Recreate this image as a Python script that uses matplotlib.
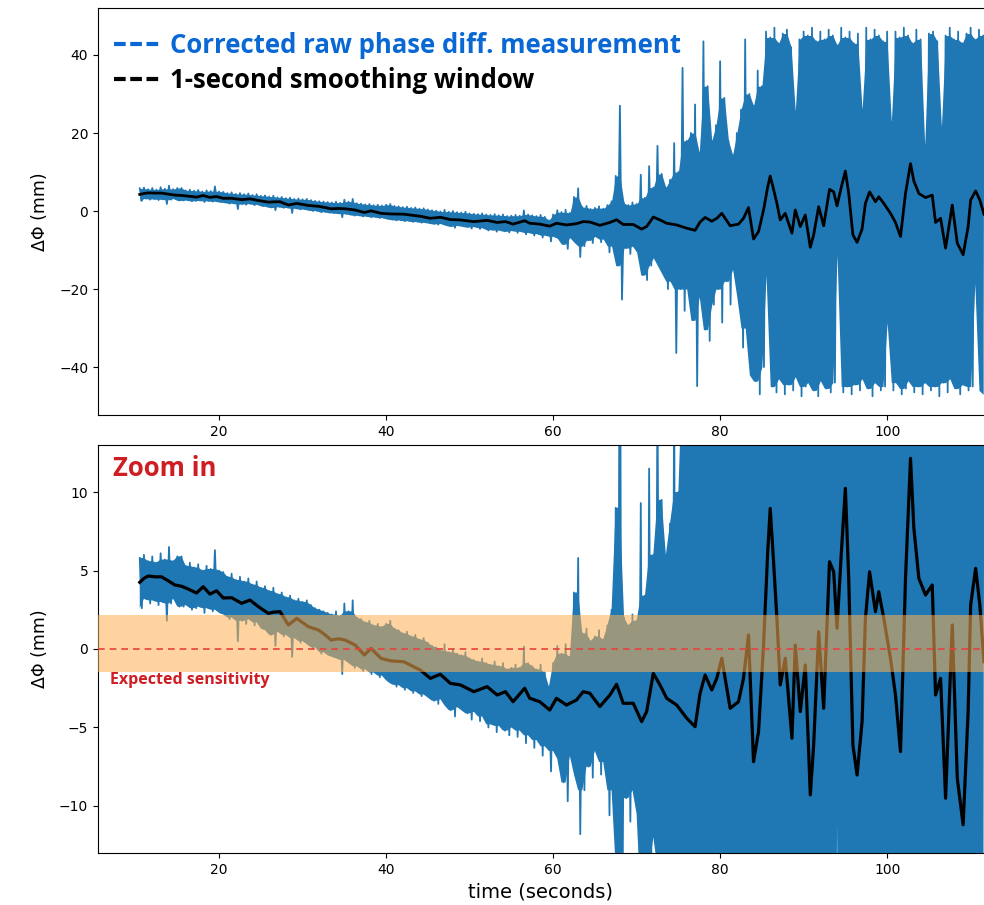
import numpy as np
import matplotlib.pyplot as plt
from matplotlib.lines import Line2D
from matplotlib.transforms import blended_transform_factory

# Raw phase difference (mm): highest / lowest excursion in each 0.5 s slot from 10.5 s on
raw_t0 = 10.5
raw_dt = 0.5
raw_hi = [
    5.8, 6.0, 5.6, 5.9, 5.5, 6.1, 5.7, 6.5, 5.6, 5.9,
    5.9, 5.3, 5.5, 5.2, 5.4, 5.0, 5.3, 5.1, 6.3, 5.0,
    4.9, 4.6, 4.8, 4.4, 4.6, 4.3, 4.5, 4.1, 4.3, 3.9,
    4.0, 3.7, 3.9, 3.5, 3.6, 3.3, 3.4, 3.1, 3.2, 3.0,
    3.1, 2.8, 2.6, 2.5, 2.4, 2.3, 2.2, 2.4, 2.1, 2.9,
    2.4, 3.1, 2.0, 1.9, 1.7, 1.8, 1.5, 1.6, 1.4, 1.6,
    1.8, 1.3, 1.2, 1.0, 1.1, 0.8, 0.9, 0.6, 0.7, 0.4,
    0.2, 0.1, -0.1, 0.3, -0.2, 0.0, -0.3, -0.4, -0.2, -0.6,
    -0.7, -0.8, -0.6, -0.9, -1.0, -0.8, -1.1, -0.9, -1.3, -1.2,
    -1.0, -1.2, 0.15, -0.9, -1.1, -1.3, -1.0, -1.5, -2.4, -0.9,
    0.2, -0.3, 0.3, -0.5, 3.6, 5.8, 1.0, 1.3, 0.5, 0.8,
    1.2, 0.6, 1.5, 2.5, 9.0, 27.0, 2.0, 1.5, 2.2, 1.8,
    9.3, 3.4, 11.5, 6.0, 16.7, 9.5, 6.0, 8.0, 17.4, 10.0,
    36.7, 18.0, 20.0, 27.3, 15.0, 43.5, 32.0, 18.0, 22.0, 38.4,
    29.0, 18.0, 14.4, 20.0, 26.0, 44.0, 30.0, 27.0, 36.0, 32.0,
    46.0, 44.5, 47.0, 43.0, 45.5, 46.5, 42.0, 25.6, 44.0, 46.0,
    45.0, 47.0, 43.5, 46.0, 44.0, 46.5, 45.0, 42.5, 47.0, 44.5,
    46.0, 43.0, 45.5, 26.0, 47.0, 44.0, 46.5, 45.0, 43.5, 46.0,
    22.8, 46.0, 44.5, 47.0, 45.0, 43.0, 46.5, 44.0, 16.8, 45.5,
    46.0, 43.5, 21.5, 45.0, 47.0, 44.0, 46.0, 43.0, 45.5, 47.0,
    44.0, 46.5, 45.0,
]
raw_lo = [
    2.6, 3.2, 2.9, 3.1, 2.8, 3.0, 1.8, 2.9, 3.2, 2.7,
    2.7, 2.8, 2.5, 2.6, 2.7, 2.3, 2.6, 2.4, 2.5, 2.3,
    2.2, 1.9, 2.0, 0.5, 1.8, 1.6, 1.9, 1.5, 1.7, 1.3,
    1.2, 0.9, 0.2, 1.1, 0.8, 0.9, -0.5, 0.7, 0.4, 0.5,
    0.3, 0.0, 0.1, -0.3, -0.2, -0.4, -0.5, -0.6, -1.6, -0.7,
    -0.9, -1.2, -1.1, -1.4, -1.3, -1.6, -1.5, -1.8, -1.7, -2.0,
    -2.2, -2.4, -2.3, -2.6, -2.5, -2.8, -2.7, -3.0, -2.9, -3.1,
    -3.3, -3.5, -3.2, -3.6, -3.9, -4.3, -3.7, -3.9, -4.1, -4.5,
    -4.0, -4.6, -4.3, -5.0, -4.8, -5.3, -4.9, -5.2, -5.5, -5.0,
    -5.6, -5.2, -6.0, -5.5, -6.3, -5.8, -6.8, -6.2, -7.8, -6.5,
    -7.0, -8.5, -9.7, -6.8, -8.0, -11.8, -9.0, -7.5, -8.2, -6.5,
    -8.0, -7.2, -10.6, -9.0, -14.0, -22.7, -9.5, -11.0, -9.0, -10.5,
    -16.4, -17.7, -14.0, -12.0, -14.0, -16.0, -20.0, -18.0, -36.4, -20.0,
    -25.6, -20.0, -28.0, -44.9, -22.0, -30.4, -33.3, -24.0, -20.0, -28.6,
    -18.0, -24.0, -15.0, -22.0, -35.0, -30.0, -42.0, -43.6, -47.0, -40.0,
    -16.5, -45.0, -46.5, -43.0, -47.0, -44.5, -46.0, -42.5, -47.5, -45.0,
    -44.0, -46.0, -47.5, -43.5, -45.5, -46.5, -44.0, -11.2, -46.5, -45.0,
    -47.0, -44.5, -46.0, -43.0, -45.5, -47.5, -44.0, -46.0, -45.0, -28.6,
    -46.0, -44.0, -47.0, -45.5, -43.5, -46.5, -45.0, -47.0, -44.0, -46.0,
    -45.0, -47.5, -44.0, -46.5, -43.0, -45.5, -47.0, -44.5, -46.0, -45.0,
    -18.6, -46.0, -47.0,
]

# 1-second moving average (mm)
smooth_t = [
    10.5, 11.0, 11.5, 12.3, 13.1, 13.9, 14.7, 15.5, 16.3, 17.3, 18.1, 18.9, 19.7,
    20.5, 21.5, 22.7, 23.7, 24.7, 25.9, 26.5, 27.3, 28.3, 29.3, 30.7, 31.9, 32.7,
    33.4, 34.3, 35.1, 36.3, 37.4, 38.2, 39.4, 40.6, 42.1, 43.2, 44.1, 45.3, 46.5,
    47.7, 48.9, 49.7, 50.5, 52.1, 53.3, 54.3, 55.2, 56.6, 57.2, 58.4, 59.6, 60.4,
    61.6, 62.8, 63.6, 64.4, 65.6, 66.8, 67.6, 68.4, 69.6, 70.6, 71.2, 72.0, 72.8,
    73.6, 74.8, 76.0, 77.0, 77.6, 78.2, 79.0, 79.6, 80.2, 81.2, 82.2, 82.8, 83.4,
    84.0, 84.6, 85.2, 85.7, 86.0, 86.4, 86.8, 87.2, 87.8, 88.6, 89.0, 89.6, 90.2,
    90.8, 91.2, 91.8, 92.4, 93.1, 93.6, 94.0, 94.5, 95.0, 95.4, 95.9, 96.4, 97.0,
    97.4, 97.9, 98.6, 99.0, 99.6, 100.4, 101.0, 101.6, 102.2, 102.8, 103.2, 103.8,
    104.6, 105.4, 105.8, 106.4, 107.0, 107.8, 108.4, 109.1, 109.7, 110.0, 110.6,
    111.1, 111.6,
]
smooth_v = [
    4.25, 4.5, 4.65, 4.6, 4.6, 4.35, 4.08, 4.0, 3.82, 3.57, 3.97, 3.5, 3.71,
    3.25, 3.27, 2.91, 3.12, 2.7, 2.27, 2.35, 2.38, 1.53, 1.95, 1.42, 1.21, 0.9,
    0.57, 0.65, 0.57, 0.25, -0.38, 0.04, -0.6, -0.76, -0.81, -1.1, -1.34, -1.87, -1.61,
    -2.19, -2.29, -2.5, -2.72, -2.4, -2.93, -2.72, -3.36, -2.5, -3.14, -3.36, -3.89, -3.14,
    -3.57, -3.25, -2.72, -2.82, -3.67, -2.93, -2.25, -3.46, -3.46, -4.63, -3.99, -1.55, -2.29,
    -3.14, -3.57, -4.41, -4.95, -2.82, -1.66, -2.61, -1.87, -0.59, -3.78, -3.36, -1.87, 0.89,
    -7.18, -5.27, 0.25, 6.2, 8.96, 5.56, 1.95, -2.29, -0.59, -5.69, 0.25, -3.99, -1.02,
    -9.3, -6.11, 1.1, -3.78, 5.56, 4.92, 1.32, 5.99, 10.24, 4.5, -6.11, -8.03, -4.63,
    1.95, 4.92, 2.38, 3.65, 1.95, -0.59, -2.93, -6.54, 4.5, 12.15, 7.69, 4.5,
    3.44, 4.08, -2.93, -1.87, -9.51, 1.53, -8.24, -11.2, -3.99, 2.8, 5.14,
    2.8, -0.81,
]

# expected sensitivity band (mm)
sens_lo, sens_hi = -1.45, 2.15

# the raw trace swings from the slot maximum to the slot minimum
t = raw_t0 + raw_dt * np.arange(len(raw_hi))
raw_x = np.column_stack([t, t + raw_dt / 2]).ravel()
raw_y = np.column_stack([raw_hi, raw_lo]).ravel()

# dense core of the trace: isolated spikes are left to the line alone
hi = np.pad(np.asarray(raw_hi), 1, mode="edge")
lo = np.pad(np.asarray(raw_lo), 1, mode="edge")
core_hi = np.minimum(hi[1:-1], np.maximum(hi[:-2], hi[2:]))
core_lo = np.maximum(lo[1:-1], np.minimum(lo[:-2], lo[2:]))

blue = "#1f77b4"
label_font = "Open Sans"

fig = plt.figure(figsize=(9.84, 9.05), dpi=100)
ax1 = fig.add_axes([98 / 984, 1 - 415 / 905, 1 - 98 / 984, 407 / 905])
ax2 = fig.add_axes([98 / 984, 1 - 853 / 905, 1 - 98 / 984, 408 / 905])

for ax in (ax1, ax2):
    ax.fill_between(t, core_lo, core_hi, color=blue, lw=0, zorder=2)
    ax.plot(raw_x, raw_y, color=blue, lw=1.3, zorder=2)
    ax.set_xlim(5.5, 111.6)
    ax.set_xticks([20, 40, 60, 80, 100])
    ax.spines["right"].set_visible(False)
    ax.set_ylabel("ΔΦ (mm)", fontsize=12.5)
    ax.yaxis.set_label_coords(-0.055, 0.5)

ax1.plot(smooth_t, smooth_v, color="black", lw=2, zorder=2.5)
ax2.plot(smooth_t, smooth_v, color="black", lw=2.3, zorder=2.5)

ax1.set_ylim(-52.3, 52.05)
ax1.set_yticks([-40, -20, 0, 20, 40])

ax2.set_ylim(-13, 13)
ax2.set_yticks([-10, -5, 0, 5, 10])
ax2.set_xlabel("time (seconds)", fontsize=14)

# sensitivity band on top of the traces
ax2.axhspan(sens_lo, sens_hi, color="#ffb052", alpha=0.55, lw=0, zorder=3)
ax2.axhline(0, color="#e8413c", ls=(0, (4, 3)), lw=1.2, zorder=4)

red = "#cf1d24"
ax2.text(0.017, 0.975, "Zoom in", transform=ax2.transAxes, color=red,
         fontsize=18.5, fontweight="bold", family=label_font, va="top", ha="left")
trans = blended_transform_factory(ax2.transAxes, ax2.transData)
ax2.text(0.0135, -1.97, "Expected sensitivity", transform=trans, color=red,
         fontsize=11.5, fontweight="bold", family=label_font, va="center", ha="left")

handles = [
    Line2D([], [], color="#0a68d4", lw=3, ls=(0, (2.8, 1.1))),
    Line2D([], [], color="black", lw=3, ls=(0, (2.8, 1.1))),
]
ax1.legend(handles, ["Corrected raw phase diff. measurement", "1-second smoothing window"],
           loc="upper left", bbox_to_anchor=(0.007, 0.966), borderaxespad=0,
           frameon=False, handlelength=1.85, handletextpad=0.3, labelspacing=0.3,
           labelcolor=["#0a68d4", "black"],
           prop=dict(family=label_font, weight="bold", size=18.5))

fig.savefig("out.png", dpi=100)
